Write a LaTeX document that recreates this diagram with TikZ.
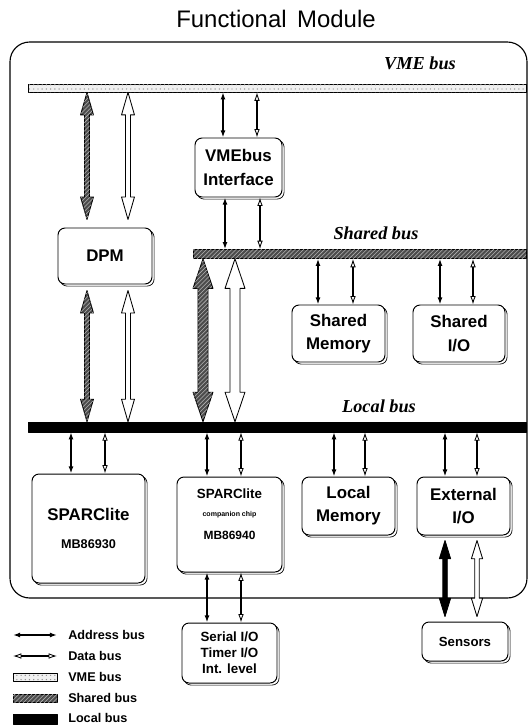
\documentclass[tikz,border=0pt]{standalone}
\usepackage{fontspec}
\setmainfont{Liberation Serif}
\setsansfont{Liberation Sans}
\usetikzlibrary{arrows.meta,calc,shadows,patterns}
% 1 px cua hinh goc
\newcommand\dv{0.025cm}
\tikzset{
	khoi/.style={draw,line width=0.7pt,rounded corners=5pt,fill=white,align=center,inner sep=0pt,
		font=\sffamily\bfseries\fontsize{12}{16.5}\selectfont,
		copy shadow={shadow xshift=1.5pt,shadow yshift=-1.5pt,draw=black,fill=white,line width=0.5pt}},
	busvme/.style={draw,line width=0.5pt,inner sep=0pt,fill=black!6,postaction={pattern=dots,pattern color=black!45}},
	busshared/.style={draw,line width=0.5pt,inner sep=0pt,fill=black!70,postaction={pattern=north east lines,pattern color=black!30}},
	buslocal/.style={draw,inner sep=0pt,fill=black},
	diachi/.style={line width=1.1pt,{Latex[length=5pt,width=3.5pt]}-{Latex[length=5pt,width=3.5pt]}},
	dulieu/.style={line width=1.1pt,{Latex[open,length=6pt,width=4pt,line width=0.6pt]}-{Latex[open,length=6pt,width=4pt,line width=0.6pt]}},
	muivme/.style={draw,line width=0.6pt,fill=white},
	muishared/.style={draw,line width=0.6pt,fill=black!70,postaction={pattern=north east lines,pattern color=black!30}},
	muilocal/.style={draw,line width=0.6pt,fill=black},
	nhanbus/.style={font=\bfseries\itshape\fontsize{13}{15}\selectfont},
	chugiai/.style={anchor=west,inner sep=0pt,font=\sffamily\bfseries\fontsize{9}{10}\selectfont},
}
%%%% mui ten to: #1 kieu, #2 dau tren, #3 dau duoi, #4 nua than, #5 nua mui, #6 dai mui
\newcommand\muiten[6]{%
	\path[#1] let \p1=#2, \p2=#3 in
	(\x1,\y1) -- (\x1+#5,\y1-#6) -- (\x1+#4,\y1-#6) -- (\x2+#4,\y2+#6) -- (\x2+#5,\y2+#6)
	-- (\x2,\y2) -- (\x2-#5,\y2+#6) -- (\x2-#4,\y2+#6) -- (\x1-#4,\y1-#6) -- (\x1-#5,\y1-#6) -- cycle;}
\begin{document}
\begin{tikzpicture}[x=0.025cm,y=-0.025cm,line join=round]
	\useasboundingbox (0,0) rectangle (529,726);
	%%%%Khung ngoai
	\node[font=\sffamily\fontsize{17}{20}\selectfont] (tieude) at (276,19) {Functional\ \,Module};
	\draw[line width=0.8pt,rounded corners=14pt] (10,42) rectangle (527,598);
	%%%%Cac bus
	\node[busvme,minimum width=498*\dv,minimum height=8*\dv] (vmebus) at (277,88) {};
	\node[busshared,minimum width=333*\dv,minimum height=9*\dv] (sharedbus) at (359.5,254) {};
	\node[buslocal,minimum width=498*\dv,minimum height=10*\dv] (localbus) at (277,427) {};
	\node[nhanbus] (nhanvme) at (420,63) {VME bus};
	\node[nhanbus] (nhanshared) at (376,233) {Shared bus};
	\node[nhanbus] (nhanlocal) at (379,406) {Local bus};
	%%%%Cac khoi
	\node[khoi,minimum width=94*\dv,minimum height=56*\dv] (dpm) at (105,256) {DPM};
	\node[khoi,minimum width=87*\dv,minimum height=59*\dv] (vmeif) at (238.5,167.5) {VMEbus\\Interface};
	\node[khoi,minimum width=93*\dv,minimum height=57*\dv] (shmem) at (338.5,333.5) {Shared\\Memory};
	\node[khoi,minimum width=92*\dv,minimum height=57*\dv] (shio) at (459,333.5) {Shared\\I/O};
	\node[khoi,minimum width=113*\dv,minimum height=109*\dv] (sparc) at (88.5,528.5)
		{{\fontsize{12}{14}\selectfont SPARClite}\\[3pt]{\fontsize{9}{10}\selectfont MB86930}};
	\node[khoi,minimum width=105*\dv,minimum height=95*\dv] (comp) at (229.5,524.5)
		{{\fontsize{9.5}{11}\selectfont SPARClite}\\[-4pt]{\fontsize{5}{6}\selectfont companion chip}\\[0pt]{\fontsize{8.5}{10}\selectfont MB86940}\\[-2pt]{\fontsize{5}{6}\selectfont\ }};
	\node[khoi,minimum width=93*\dv,minimum height=58*\dv] (locmem) at (348.5,506) {Local\\Memory};
	\node[khoi,minimum width=93*\dv,minimum height=58*\dv] (extio) at (463.5,506) {External\\I/O};
	\node[khoi,minimum width=86*\dv,minimum height=39*\dv,font=\sffamily\bfseries\fontsize{9.4}{11}\selectfont] (sensors) at (465,641.5) {Sensors};
	\node[khoi,minimum width=95*\dv,minimum height=60*\dv,font=\sffamily\bfseries\fontsize{9.5}{11.5}\selectfont] (serial) at (229.5,653)
		{Serial I/O\\Timer I/O\\Int. level};
	%%%%Mui ten dia chi / du lieu
	\foreach \xa/\xd/\tren/\duoi in {223/257/vmebus.south/vmeif.north,225/260/vmeif.south/sharedbus.north,
		318/353/sharedbus.south/shmem.north,440/473/sharedbus.south/shio.north,
		71/105/localbus.south/sparc.north,207/241/localbus.south/comp.north,
		334/365/localbus.south/locmem.north,445/477/localbus.south/extio.north,
		207/241/comp.south/serial.north}{
		\draw[diachi] (\xa,0 |- \tren) -- (\xa,0 |- \duoi);
		\draw[dulieu] (\xd,0 |- \tren) -- (\xd,0 |- \duoi);
	}
	%%%%Mui ten to
	\muiten{muishared}{(87,0 |- vmebus.south)}{($(87,0 |- dpm.north)+(0,-8)$)}{1.8pt}{4.6pt}{16pt}
	\muiten{muivme}{(128,0 |- vmebus.south)}{($(128,0 |- dpm.north)+(0,-8)$)}{1.8pt}{4.6pt}{16pt}
	\muiten{muishared}{($(87,0 |- dpm.south)+(0,6)$)}{(87,0 |- localbus.north)}{1.8pt}{4.6pt}{16pt}
	\muiten{muivme}{($(128,0 |- dpm.south)+(0,6)$)}{(128,0 |- localbus.north)}{1.8pt}{4.6pt}{16pt}
	\muiten{muishared}{(203,0 |- sharedbus.south)}{(203,0 |- localbus.north)}{3.6pt}{7.1pt}{21pt}
	\muiten{muivme}{(235,0 |- sharedbus.south)}{(235,0 |- localbus.north)}{3.6pt}{7.1pt}{21pt}
	\muiten{muilocal}{($(445,0 |- extio.south)+(0,5)$)}{($(445,0 |- sensors.north)+(0,-5)$)}{1.6pt}{4pt}{13pt}
	\muiten{muivme}{($(477,0 |- extio.south)+(0,5)$)}{($(477,0 |- sensors.north)+(0,-5)$)}{1.6pt}{4pt}{13pt}
	%%%%Chu giai
	\draw[diachi] (13,635) -- (57,635);
	\draw[dulieu] (13,656) -- (57,656);
	\path[busvme] (13,673) rectangle (57,681);
	\path[busshared] (13,694) rectangle (57,702);
	\path[buslocal] (13,714) rectangle (57,724);
	\node[chugiai] (gdiachi) at (68,635) {Address bus};
	\node[chugiai] (gdulieu) at (68,656) {Data bus};
	\node[chugiai] (gvme) at (68,677) {VME bus};
	\node[chugiai] (gshared) at (68,698) {Shared bus};
	\node[chugiai] (glocal) at (68,718) {Local bus};
\end{tikzpicture}
\end{document}
